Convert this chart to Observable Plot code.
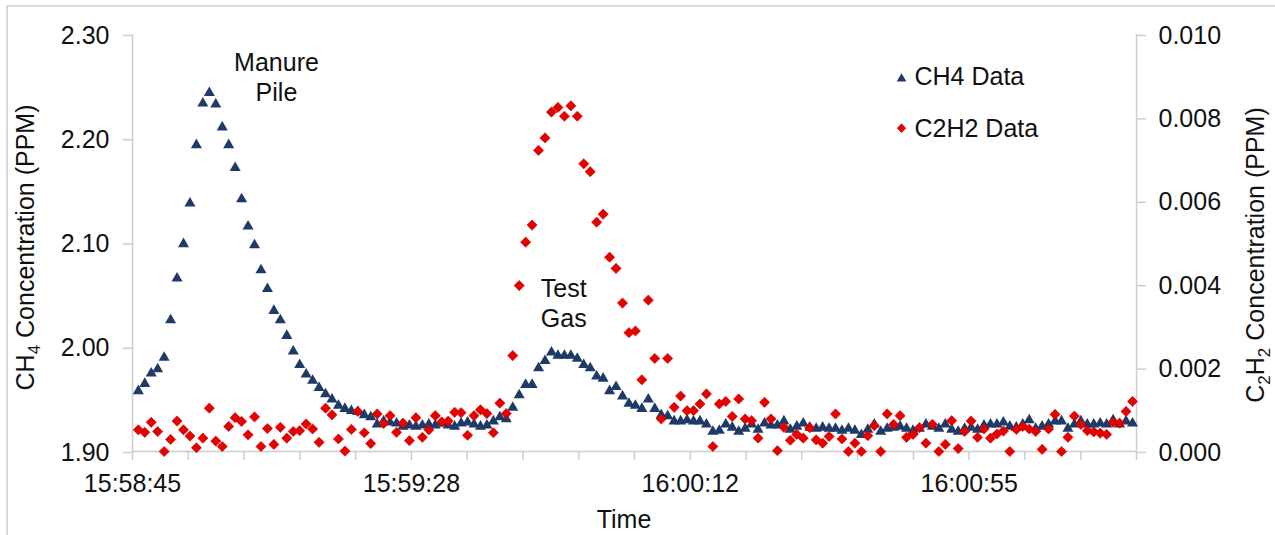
<!DOCTYPE html>
<html>
<head>
<meta charset="utf-8">
<script src="https://cdn.jsdelivr.net/npm/d3@7"></script>
<script src="https://cdn.jsdelivr.net/npm/@observablehq/plot@0.6"></script>
<style>
  html, body { margin: 0; padding: 0; background: #fff; }
  #chart { position: relative; width: 1275px; height: 535px; overflow: hidden; }
</style>
</head>
<body>
<div id="chart"></div>
<script>
// ---------- DATA ----------
// CH4 (left axis, PPM), one sample per second
const ch4Values = [
  1.959, 1.966, 1.976, 1.980, 1.991, 2.027, 2.067, 2.100, 2.139, 2.195,
  2.235, 2.245, 2.234, 2.212, 2.195, 2.173, 2.143, 2.117, 2.099, 2.075,
  2.057, 2.036, 2.027, 2.012, 1.997, 1.984, 1.975, 1.969, 1.962, 1.956,
  1.951, 1.945, 1.942, 1.940, 1.939, 1.936, 1.934, 1.927, 1.930, 1.929,
  1.928, 1.925, 1.926, 1.925, 1.926, 1.927, 1.926, 1.928, 1.926, 1.925,
  1.928, 1.929, 1.927, 1.925, 1.926, 1.930, 1.934, 1.932, 1.943, 1.955,
  1.965, 1.965, 1.981, 1.988, 1.996, 1.993, 1.993, 1.993, 1.990, 1.984,
  1.981, 1.973, 1.971, 1.959, 1.963, 1.954, 1.947, 1.945, 1.942, 1.951,
  1.942, 1.936, 1.935, 1.930, 1.930, 1.931, 1.930, 1.930, 1.927, 1.920,
  1.921, 1.927, 1.924, 1.920, 1.923, 1.927, 1.922, 1.928, 1.926, 1.926,
  1.930, 1.922, 1.925, 1.928, 1.924, 1.923, 1.924, 1.923, 1.923, 1.921,
  1.923, 1.921, 1.917, 1.922, 1.927, 1.920, 1.923, 1.924, 1.925, 1.923,
  1.921, 1.923, 1.927, 1.925, 1.923, 1.927, 1.922, 1.920, 1.923, 1.924,
  1.922, 1.926, 1.927, 1.927, 1.929, 1.925, 1.924, 1.927, 1.931, 1.923,
  1.925, 1.927, 1.930, 1.930, 1.923, 1.927, 1.930, 1.927, 1.927, 1.928,
  1.927, 1.931, 1.927, 1.930, 1.928
];
// C2H2 (right axis, PPM), same timestamps
const c2h2Values = [
  0.00052, 0.00046, 0.00070, 0.00048, 0.00000, 0.00029, 0.00073, 0.00052, 0.00037, 0.00009,
  0.00032, 0.00104, 0.00025, 0.00012, 0.00060, 0.00081, 0.00072, 0.00040, 0.00083, 0.00012,
  0.00055, 0.00017, 0.00058, 0.00032, 0.00048, 0.00050, 0.00066, 0.00054, 0.00022, 0.00104,
  0.00088, 0.00030, 0.00001, 0.00053, 0.00096, 0.00045, 0.00019, 0.00090, 0.00067, 0.00086,
  0.00046, 0.00068, 0.00026, 0.00081, 0.00034, 0.00052, 0.00086, 0.00071, 0.00073, 0.00094,
  0.00093, 0.00039, 0.00086, 0.00100, 0.00091, 0.00045, 0.00116, 0.00091, 0.00230, 0.00398,
  0.00502, 0.00543, 0.00722, 0.00752, 0.00814, 0.00825, 0.00804, 0.00829, 0.00804, 0.00690,
  0.00671, 0.00550, 0.00569, 0.00466, 0.00439, 0.00356, 0.00285, 0.00289, 0.00172, 0.00363,
  0.00223, 0.00078, 0.00223, 0.00106, 0.00133, 0.00098, 0.00098, 0.00114, 0.00138, 0.00012,
  0.00114, 0.00120, 0.00084, 0.00126, 0.00078, 0.00074, 0.00032, 0.00118, 0.00078, 0.00002,
  0.00058, 0.00027, 0.00041, 0.00032, 0.00057, 0.00028, 0.00020, 0.00036, 0.00090, 0.00030,
  0.00000, 0.00020, 0.00000, 0.00038, 0.00062, 0.00000, 0.00090, 0.00065, 0.00086, 0.00034,
  0.00041, 0.00057, 0.00020, 0.00065, 0.00000, 0.00017, 0.00074, 0.00007, 0.00048, 0.00073,
  0.00034, 0.00054, 0.00032, 0.00042, 0.00049, 0.00000, 0.00053, 0.00060, 0.00054, 0.00048,
  0.00005, 0.00054, 0.00089, 0.00000, 0.00034, 0.00085, 0.00065, 0.00050, 0.00047, 0.00044,
  0.00041, 0.00070, 0.00068, 0.00096, 0.00120
];
const sampleStart = "15:58:46.1";   // time of first sample
const samplePeriodSec = 1;

// axes
const axisStart = "15:58:45.2";
const minorUnitSec = 8.64;          // 0.0001 day
const minorTickCount = 18;
const majorEvery = 5;
const xTickLabels = ["15:58:45", "15:59:28", "16:00:12", "16:00:55"];
const leftTicks = [1.90, 2.00, 2.10, 2.20, 2.30];
const leftTickLabels = ["1.90", "2.00", "2.10", "2.20", "2.30"];
const rightTicks = [0.000, 0.002, 0.004, 0.006, 0.008, 0.010];
const rightTickLabels = ["0.000", "0.002", "0.004", "0.006", "0.008", "0.010"];
const seriesNames = ["CH4 Data", "C2H2 Data"];
const annotationTexts = ["Manure\nPile", "Test\nGas"];
const annotationTimes = ["15:59:07.5", "15:59:52.0"];
const annotationLevels = [2.260, 2.043];

// ---------- BUILD ----------
const navy = "#1f3a68", red = "#e60000", axisGray = "#cccccc", textColor = "#111111";
const toSec = s => { const [h, m, sec] = s.split(":"); return +h * 3600 + +m * 60 + +sec; };
const x0 = toSec(axisStart);
const t0 = toSec(sampleStart);
const xDomain = [x0, x0 + minorTickCount * minorUnitSec];
const yDomain = [leftTicks[0], leftTicks[leftTicks.length - 1]];
const rDomain = [rightTicks[0], rightTicks[rightTicks.length - 1]];
const toLeft = v => yDomain[0] + (v - rDomain[0]) * (yDomain[1] - yDomain[0]) / (rDomain[1] - rDomain[0]);

const ch4Data = ch4Values.map((v, i) => ({t: t0 + i * samplePeriodSec, v}));
const c2h2Data = c2h2Values.map((v, i) => ({t: t0 + i * samplePeriodSec, v}));
const annotations = annotationTexts.map((label, i) => ({label, t: toSec(annotationTimes[i]), v: annotationLevels[i]}));

const xTicks = d3.range(minorTickCount + 1).map(j => x0 + j * minorUnitSec);
const majorTicks = xTicks.filter((d, j) => j % majorEvery === 0);
const rightTicksLeft = rightTicks.map(toLeft);

const svg = Plot.plot({
  width: 1275,
  height: 535,
  marginLeft: 132,
  marginRight: 139,
  marginTop: 34,
  marginBottom: 84,
  style: {fontFamily: "'Liberation Sans', Arial, sans-serif", fontSize: "25px", color: textColor, background: "#fff", overflow: "visible"},
  x: {type: "linear", domain: xDomain, label: null},
  y: {domain: yDomain, label: null},
  marks: [
    // axis lines
    Plot.ruleY([yDomain[0]], {stroke: axisGray, strokeWidth: 1.5}),
    Plot.ruleX([xDomain[0], xDomain[1]], {stroke: axisGray, strokeWidth: 1.5}),
    // x axis
    Plot.axisX({ticks: xTicks, tickSize: 9, tickFormat: () => "", stroke: axisGray, strokeWidth: 1.5, label: null}),
    Plot.axisX({ticks: majorTicks, tickSize: 0, tickPadding: 23, tickFormat: d => xTickLabels[majorTicks.indexOf(d)], fill: textColor, label: null}),
    // left axis
    Plot.axisY({anchor: "left", ticks: leftTicks, tickSize: 9, tickPadding: 14, dy: 1, tickFormat: d => leftTickLabels[leftTicks.indexOf(d)], stroke: axisGray, strokeWidth: 1.5, fill: textColor, label: null}),
    // right axis (C2H2 mapped onto CH4 scale)
    Plot.axisY({anchor: "right", ticks: rightTicksLeft, tickSize: 9, tickPadding: 13, dy: 1, tickFormat: d => rightTickLabels[rightTicksLeft.indexOf(d)], stroke: axisGray, strokeWidth: 1.5, fill: textColor, label: null}),
    // data
    Plot.dot(ch4Data, {x: "t", y: "v", symbol: "triangle", r: 4.1, fill: navy, dy: 1}),
    Plot.dot(c2h2Data, {x: "t", y: d => toLeft(d.v), symbol: "diamond2", r: 4.6, fill: red, stroke: "#c40000", strokeWidth: 0.6}),
    // annotations
    Plot.text(annotations, {x: "t", y: "v", text: "label", lineHeight: 1.2, lineAnchor: "middle", fill: textColor, textAnchor: "middle"}),
    // legend
    Plot.dot([seriesNames[0]], {frameAnchor: "top-right", dx: -235, dy: 44.3, symbol: "triangle", r: 3.6, fill: navy}),
    Plot.dot([seriesNames[1]], {frameAnchor: "top-right", dx: -235, dy: 93.7, symbol: "diamond2", r: 3.9, fill: red, stroke: "#c40000", strokeWidth: 0.6}),
    Plot.text([seriesNames[0]], {frameAnchor: "top-right", lineAnchor: "middle", dx: -222, dy: 42.3, text: d => d, textAnchor: "start", fill: textColor}),
    Plot.text([seriesNames[1]], {frameAnchor: "top-right", lineAnchor: "middle", dx: -222, dy: 94.7, text: d => d, textAnchor: "start", fill: textColor})
  ]
});

document.getElementById("chart").appendChild(svg);
const s = d3.select(svg);

// outer chart border
s.insert("rect", ":first-child")
  .attr("x", 7).attr("y", 6).attr("width", 1290).attr("height", 560)
  .attr("fill", "none").attr("stroke", "#d9d9d9").attr("stroke-width", 2);

// axis titles with subscripts
function title(tx, ty, parts, rotate) {
  const t = s.append("text")
    .attr("transform", `translate(${tx},${ty})` + (rotate ? " rotate(-90)" : ""))
    .attr("text-anchor", "middle")
    .attr("fill", textColor)
    .style("font-size", "25px");
  let shifted = false;
  for (const [str, sub] of parts) {
    const span = t.append("tspan").text(str);
    if (sub && !shifted) { span.attr("dy", 6).style("font-size", "17px"); shifted = true; }
    else if (!sub && shifted) { span.attr("dy", -6); shifted = false; }
  }
}
title(34, 247.5, [["CH"], ["4", true], [" Concentration (PPM)"]], true);
title(1264, 255, [["C"], ["2", true], ["H"], ["2", true], [" Concentration (PPM)"]], true);
title(624, 528, [["Time"]], false);
</script>
</body>
</html>
